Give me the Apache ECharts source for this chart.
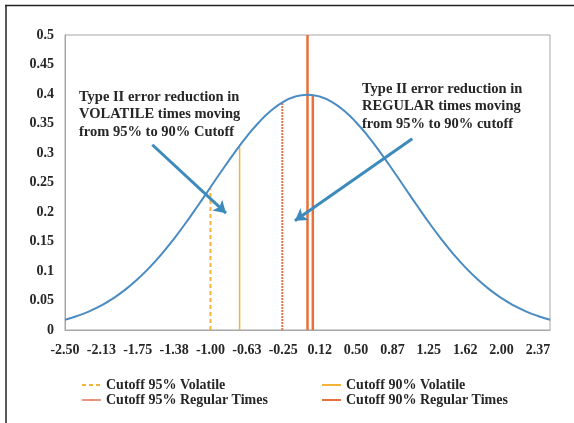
<!DOCTYPE html>
<html>
<head>
<meta charset="utf-8">
<script src="https://cdn.jsdelivr.net/npm/echarts@6/dist/echarts.min.js"></script>
<style>
html,body{margin:0;padding:0;background:#fff;}
#chart{width:574px;height:423px;}
</style>
</head>
<body>
<div id="chart"></div>
<script>
// ---- Data ----
const X_MIN = -2.5, X_MAX = 2.5;
const curveX = [-2.5,-2.375,-2.25,-2.125,-2.0,-1.875,-1.75,-1.625,-1.5,-1.375,-1.25,-1.125,-1.0,-0.875,-0.75,-0.625,-0.5,-0.375,-0.25,-0.125,0,0.125,0.25,0.375,0.5,0.625,0.75,0.875,1.0,1.125,1.25,1.375,1.5,1.625,1.75,1.875,2.0,2.125,2.25,2.375,2.5];
const curveY = [0.0175,0.0238,0.0317,0.0417,0.0540,0.0688,0.0863,0.1065,0.1295,0.1550,0.1826,0.2119,0.2420,0.2720,0.3011,0.3282,0.3521,0.3719,0.3867,0.3958,0.3989,0.3958,0.3867,0.3719,0.3521,0.3282,0.3011,0.2720,0.2420,0.2119,0.1826,0.1550,0.1295,0.1065,0.0863,0.0688,0.0540,0.0417,0.0317,0.0238,0.0175];
const xTickLabels = ['-2.50','-2.13','-1.75','-1.38','-1.00','-0.63','-0.25','0.12','0.50','0.87','1.25','1.62','2.00','2.37'];
const X_TICK_STEP = 0.375;

const seriesNames = ['Cutoff 95% Volatile','Cutoff 90% Volatile','Cutoff 95% Regular Times','Cutoff 90% Regular Times'];
// vertical cutoff segments: [x, yBottom, yTop]
const cut95Vol = [[-1.0, 0, 0.24]];
const cut90Vol = [[-0.70, 0, 0.31]];
const cut95Reg = [[-0.26, 0, 0.385]];
const cut90Reg = [[0.0, 0, 0.5], [0.055, 0, 0.398]];

const annotLeft = ['Type II error reduction in','VOLATILE times moving','from 95% to 90% Cutoff'];
const annotRight = ['Type II error reduction in','REGULAR times moving','from 95% to 90% cutoff'];
// arrows in data coords: [xStart, yStart, xEnd, yEnd]
const arrowLeft = [-1.60, 0.314, -0.84, 0.198];
const arrowRight = [1.08, 0.324, -0.13, 0.185];

// ---- helpers ----
const ax = x => x - X_MIN;
function segs(list){
  const out = [];
  list.forEach((s, i) => {
    if (i > 0) out.push([ax(s[0]), '-']);
    out.push([ax(s[0]), s[1]]);
    out.push([ax(s[0]), s[2]]);
  });
  return out;
}

const FONT = 'Liberation Serif';
const TXT = '#262626';
const BLUE = '#4a8cc2';
const YEL = '#f2b338';
const RED = '#e8703a';
const RED_L = '#e27556';
const DASH_ICON = 'path://M0,0h5v2h-5z M7,0h5v2h-5z M14,0h5v2h-5z';

const chart = echarts.init(document.getElementById('chart'), null, {renderer:'canvas'});
const legendCommon = {orient: 'vertical', top: 373, itemWidth: 19, itemHeight: 2, itemGap: 1,
  textStyle: {fontFamily: FONT, fontSize: 14, fontWeight: 'bold', color: TXT}};
const option = {
  backgroundColor: '#fff',
  animation: false,
  textStyle: {fontFamily: FONT},
  grid: {left: 65, right: 24, top: 35, bottom: 93, show: true, borderColor: '#a6a6a6', borderWidth: 1, containLabel: false},
  xAxis: {
    type: 'value', min: 0, max: X_MAX - X_MIN, interval: X_TICK_STEP,
    splitLine: {show: false}, axisTick: {show: false},
    axisLine: {show: true, lineStyle: {color: '#a6a6a6'}},
    axisLabel: {
      fontFamily: FONT, fontSize: 14, fontWeight: 'bold', color: TXT, margin: 13, showMaxLabel: false,
      formatter: v => { const i = Math.round(v / X_TICK_STEP); return i < xTickLabels.length && Math.abs(i*X_TICK_STEP - v) < 1e-6 ? xTickLabels[i] : ''; }
    }
  },
  yAxis: {
    type: 'value', min: 0, max: 0.5, interval: 0.05,
    splitLine: {show: false}, axisTick: {show: false},
    axisLine: {show: true, lineStyle: {color: '#a6a6a6'}},
    axisLabel: {fontFamily: FONT, fontSize: 14, fontWeight: 'bold', color: TXT, margin: 11, formatter: v => String(+v.toFixed(2))}
  },
  legend: [
    Object.assign({data: [seriesNames[0], {name: seriesNames[2], lineStyle: {type: 'solid', width: 1.5}}], left: 76}, legendCommon),
    Object.assign({data: [seriesNames[1], seriesNames[3]], left: 316}, legendCommon)
  ],
  series: [
    {
      name: 'Normal', type: 'line', smooth: true, showSymbol: false, symbol: 'none',
      data: curveX.map((x, i) => [ax(x), curveY[i]]),
      lineStyle: {color: BLUE, width: 2}, itemStyle: {color: BLUE}, z: 3,
      markLine: {
        silent: true, animation: false, symbol: ['none', 'arrow'], symbolSize: [11, 12],
        lineStyle: {color: '#3d8bbd', width: 3, type: 'solid'}, label: {show: false},
        data: [
          [{coord: [ax(arrowLeft[0]), arrowLeft[1]]}, {coord: [ax(arrowLeft[2]), arrowLeft[3]]}],
          [{coord: [ax(arrowRight[0]), arrowRight[1]]}, {coord: [ax(arrowRight[2]), arrowRight[3]]}]
        ]
      }
    },
    {name: seriesNames[0], type: 'line', symbol: 'none', legendIcon: DASH_ICON, data: segs(cut95Vol), connectNulls: false,
     lineStyle: {color: YEL, width: 2, type: [4, 3]}, itemStyle: {color: YEL}, z: 2},
    {name: seriesNames[1], type: 'line', symbol: 'none', legendIcon: 'rect', data: segs(cut90Vol), connectNulls: false,
     lineStyle: {color: YEL, width: 1.5}, itemStyle: {color: YEL}, z: 2},
    {name: seriesNames[2], type: 'line', symbol: 'none', legendIcon: 'rect', data: segs(cut95Reg), connectNulls: false,
     lineStyle: {color: RED_L, width: 2, type: [2, 1]}, itemStyle: {color: RED_L}, z: 2},
    {name: seriesNames[3], type: 'line', symbol: 'none', legendIcon: 'rect', data: segs(cut90Reg), connectNulls: false,
     lineStyle: {color: RED, width: 2.5}, itemStyle: {color: RED}, z: 2}
  ],
  graphic: [
    {type: 'line', shape: {x1: 5, y1: 5.5, x2: 574, y2: 5.5}, style: {stroke: '#222', lineWidth: 1.5}, silent: true},
    {type: 'line', shape: {x1: 6, y1: 5, x2: 6, y2: 423}, style: {stroke: '#222', lineWidth: 1.5}, silent: true},
    {type: 'text', left: 79, top: 88, style: {text: annotLeft.join('\n'), font: 'bold 14.5px "Liberation Serif"', fill: TXT, lineHeight: 17.5}, silent: true},
    {type: 'text', left: 362, top: 80, style: {text: annotRight.join('\n'), font: 'bold 14.5px "Liberation Serif"', fill: TXT, lineHeight: 17.5}, silent: true}
  ]
};
chart.setOption(option);
</script>
</body>
</html>
